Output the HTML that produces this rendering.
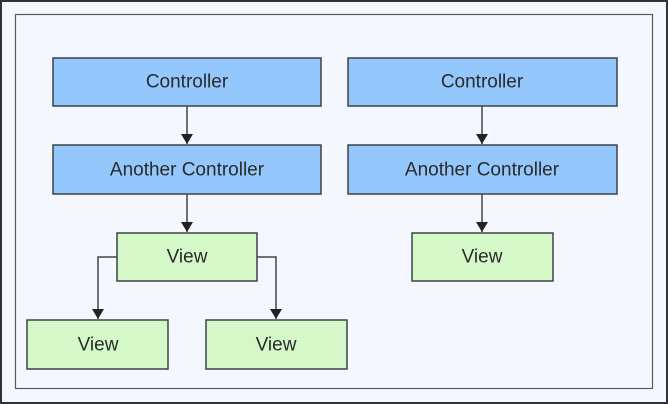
<!DOCTYPE html>
<html><head><meta charset="utf-8"><style>
html,body{margin:0;padding:0;}
body{width:668px;height:404px;background:#f4f8fe;overflow:hidden;}
svg{display:block;}
text{font-family:"Liberation Sans",sans-serif;font-size:19px;fill:#2a2a2a;text-anchor:middle;dominant-baseline:central;}
</style></head><body>
<svg width="668" height="404" viewBox="0 0 668 404" xmlns="http://www.w3.org/2000/svg">
<defs><marker id="a" markerWidth="12" markerHeight="12" refX="10" refY="6" orient="auto" markerUnits="userSpaceOnUse"><path d="M0,0 L10,6 L0,12 Z" fill="#222"/></marker></defs>
<rect x="1" y="1" width="666" height="402" fill="#f4f8fe" stroke="#2f3337" stroke-width="2"/>
<rect x="15.5" y="14.5" width="637" height="374" fill="#f4f8fe" stroke="#555c60" stroke-width="1.2"/>
<g stroke="#444" stroke-width="1.5" fill="none">
<path d="M187 106 V144" marker-end="url(#a)"/>
<path d="M187 194 V232" marker-end="url(#a)"/>
<path d="M117 257 H98 V319" marker-end="url(#a)"/>
<path d="M257 257 H276 V319" marker-end="url(#a)"/>
<path d="M482 106 V144" marker-end="url(#a)"/>
<path d="M482 194 V232" marker-end="url(#a)"/>
</g>
<g stroke="#3d4347" stroke-width="1.5">
<rect x="53" y="58" width="268" height="48" fill="#94c8fc"/>
<rect x="53" y="145" width="268" height="49" fill="#94c8fc"/>
<rect x="348" y="58" width="269" height="48" fill="#94c8fc"/>
<rect x="348" y="145" width="269" height="49" fill="#94c8fc"/>
<rect x="117" y="233" width="140" height="48" fill="#d4f8c8"/>
<rect x="27" y="320" width="141" height="49" fill="#d4f8c8"/>
<rect x="206" y="320" width="141" height="49" fill="#d4f8c8"/>
<rect x="412" y="233" width="141" height="48" fill="#d4f8c8"/>
</g>
<text x="187" y="82">Controller</text>
<text x="187" y="170">Another Controller</text>
<text x="482" y="82">Controller</text>
<text x="482" y="170">Another Controller</text>
<text x="187" y="257">View</text>
<text x="98" y="345">View</text>
<text x="276" y="345">View</text>
<text x="482" y="257">View</text>
</svg>
</body></html>
